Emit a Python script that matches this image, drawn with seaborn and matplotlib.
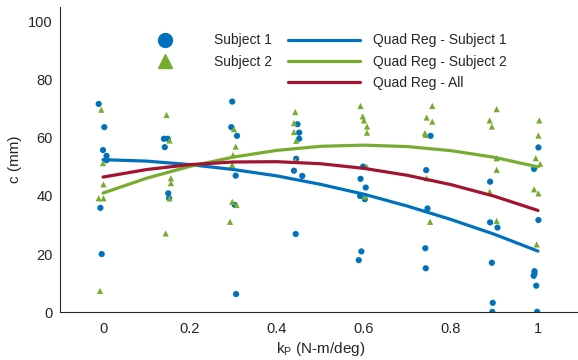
import pandas as pd
import matplotlib.pyplot as plt
from matplotlib.lines import Line2D
import seaborn as sns

# 색상 (MATLAB 기본 팔레트)
blue = '#0072BD'
green = '#77AC30'
red = '#A2142F'

# Subject 1 측정값
s1_kp = [-0.01, 0.003, 0.0, 0.008, 0.008, -0.006, -0.003,
         0.14, 0.149, 0.142, 0.15, 0.152,
         0.297, 0.295, 0.308, 0.305, 0.303, 0.306,
         0.447, 0.451, 0.451, 0.444, 0.439, 0.458, 0.443,
         0.598, 0.592, 0.604, 0.591, 0.602, 0.594, 0.588,
         0.753, 0.743, 0.746, 0.741, 0.742,
         0.89, 0.89, 0.907, 0.894, 0.896, 0.895,
         1.001, 0.991, 1.001, 0.992, 0.992, 0.99, 0.996, 0.998]
s1_c = [71.7, 63.7, 55.8, 53.8, 52.3, 35.9, 20.0,
        59.7, 59.7, 56.8, 40.9, 39.2,
        72.5, 63.7, 60.7, 47.0, 36.9, 6.2,
        64.7, 61.8, 59.7, 52.8, 48.7, 46.9, 26.9,
        50.1, 45.9, 42.9, 40.0, 38.9, 20.9, 17.9,
        60.7, 48.9, 35.7, 22.0, 15.1,
        44.9, 30.9, 29.1, 17.0, 3.2, 0.1,
        56.7, 49.3, 31.7, 14.1, 13.3, 12.5, 9.1, 0.1]

# Subject 2 측정값
s2_kp = [-0.004, 0.0, 0.001, -0.01, 0.001, -0.007,
         0.146, 0.153, 0.156, 0.156, 0.153, 0.144,
         0.301, 0.305, 0.299, 0.297, 0.297, 0.307, 0.292,
         0.442, 0.439, 0.439, 0.444, 0.442,
         0.592, 0.597, 0.6, 0.607, 0.607, 0.606, 0.602,
         0.757, 0.744, 0.757, 0.74, 0.742, 0.744, 0.752,
         0.905, 0.889, 0.894, 0.905, 0.905, 0.889, 0.905,
         1.003, 1.001, 0.995, 1.005, 0.991, 1.001, 0.997]
s2_c = [69.7, 51.3, 44.0, 39.2, 39.2, 7.3,
        67.9, 59.1, 46.1, 44.4, 39.2, 27.1,
        63.0, 57.0, 54.1, 50.7, 38.0, 36.9, 31.1,
        68.9, 65.1, 62.0, 59.0, 52.1,
        71.0, 67.4, 66.0, 63.9, 61.8, 50.1, 39.8,
        71.0, 67.0, 65.6, 61.6, 61.0, 46.1, 31.1,
        69.9, 66.0, 63.9, 53.0, 49.0, 41.5, 31.4,
        66.0, 60.8, 53.0, 51.0, 42.3, 40.9, 23.3]

# 2차 회귀 곡선
fit_kp = [0.0, 0.1, 0.2, 0.3, 0.4, 0.5, 0.6, 0.7, 0.8, 0.9, 1.0]
fit_s1 = [52.5, 52.0, 50.8, 49.1, 46.9, 44.0, 40.6, 36.5, 31.9, 26.8, 21.0]
fit_s2 = [41.0, 46.1, 50.2, 53.4, 55.7, 57.1, 57.5, 57.0, 55.6, 53.3, 50.0]
fit_all = [46.5, 49.1, 50.8, 51.7, 51.8, 51.1, 49.5, 47.1, 43.9, 39.9, 35.0]

x_ticks = [0, 0.2, 0.4, 0.6, 0.8, 1]
y_ticks = [0, 20, 40, 60, 80, 100]

df_pts = pd.DataFrame({
    'kp': s1_kp + s2_kp,
    'c': s1_c + s2_c,
    'subject': ['Subject 1'] * len(s1_kp) + ['Subject 2'] * len(s2_kp),
})
df_fit = pd.DataFrame({
    'kp': fit_kp * 3,
    'c': fit_s1 + fit_s2 + fit_all,
    'fit': ['Quad Reg - Subject 1'] * 11 + ['Quad Reg - Subject 2'] * 11 + ['Quad Reg - All'] * 11,
})

sns.set_style('white')
plt.rcParams['font.family'] = ['Liberation Sans', 'DejaVu Sans']
plt.rcParams['mathtext.fontset'] = 'custom'
plt.rcParams['mathtext.rm'] = 'Liberation Sans'
plt.rcParams['mathtext.it'] = 'Liberation Sans'

fig = plt.figure(figsize=(5.78, 3.6), dpi=100)
ax = fig.add_axes([0.103, 0.133, 0.903, 0.847])

sns.scatterplot(data=df_pts, x='kp', y='c', hue='subject', style='subject',
                palette={'Subject 1': blue, 'Subject 2': green},
                markers={'Subject 1': 'o', 'Subject 2': '^'},
                s=20, linewidth=0, legend=False, ax=ax)
sns.lineplot(data=df_fit, x='kp', y='c', hue='fit',
             palette={'Quad Reg - Subject 1': blue, 'Quad Reg - Subject 2': green,
                      'Quad Reg - All': red},
             linewidth=2.3, legend=False, ax=ax)

ax.set_xlim(-0.1, 1.1)
ax.set_ylim(0, 105)
ax.set_xticks(x_ticks)
ax.set_xticklabels(['0', '0.2', '0.4', '0.6', '0.8', '1'])
ax.set_yticks(y_ticks)
ax.tick_params(direction='in', length=4, colors='#262626', labelsize=10.5,
               width=0.8, pad=5)
ax.tick_params(axis='x', pad=7)
for side in ['top', 'right']:
    ax.spines[side].set_visible(False)
for side in ['left', 'bottom']:
    ax.spines[side].set_color('#262626')
    ax.spines[side].set_linewidth(0.8)

ax.set_xlabel(r'k$_\mathrm{P}$ (N-m/deg)', fontsize=11, color='#262626', labelpad=3)
ax.set_ylabel('c (mm)', fontsize=11, color='#262626', labelpad=4)

# 범례 (2열: 마커 / 회귀선)
handles = [
    Line2D([], [], marker='o', color=blue, linestyle='none', markersize=10),
    Line2D([], [], marker='^', color=green, linestyle='none', markersize=10),
    Line2D([], [], linestyle='none'),
    Line2D([], [], color=blue, linewidth=2.3),
    Line2D([], [], color=green, linewidth=2.3),
    Line2D([], [], color=red, linewidth=2.3),
]
labels = ['Subject 1', 'Subject 2', '', 'Quad Reg - Subject 1',
          'Quad Reg - Subject 2', 'Quad Reg - All']
ax.legend(handles, labels, ncol=2, frameon=False, loc='upper left',
          bbox_to_anchor=(0.108, 0.955), fontsize=10, handlelength=5.2,
          handletextpad=0.95, columnspacing=1.15, labelspacing=0.52,
          labelcolor='#262626')

fig.savefig('out.png', dpi=100)
